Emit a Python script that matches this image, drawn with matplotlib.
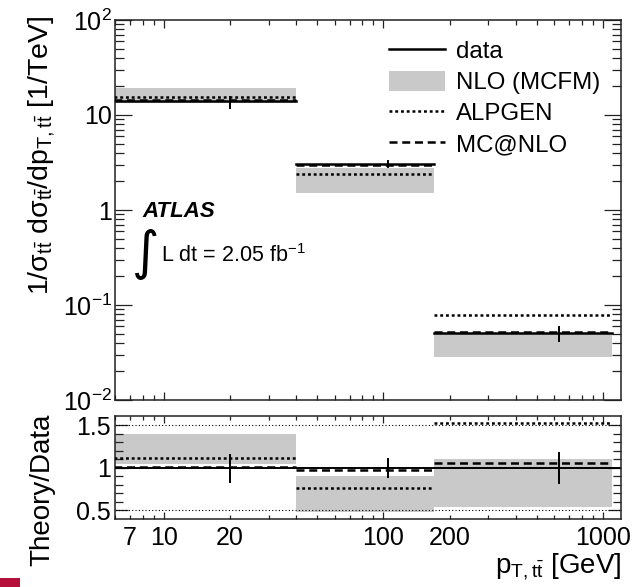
import numpy as np
import matplotlib
matplotlib.use('Agg')
import matplotlib.pyplot as plt
from matplotlib.ticker import FixedLocator, FixedFormatter, NullFormatter, FuncFormatter
from matplotlib.patches import Rectangle, Patch
from matplotlib.lines import Line2D

plt.rcParams['font.family'] = ['Liberation Sans', 'DejaVu Sans']
plt.rcParams['mathtext.fontset'] = 'custom'
plt.rcParams['mathtext.rm'] = 'Liberation Sans'
plt.rcParams['mathtext.it'] = 'Liberation Sans:italic'
plt.rcParams['mathtext.bf'] = 'Liberation Sans:bold'

# ---- data ----
bin_edges = [1.0, 40.0, 170.0, 1100.0]
data_x = [20.0, 105.0, 630.0]
data_val = [13.9, 3.05, 0.051]
data_err_hi = [15.6, 3.30, 0.059]
data_err_lo = [11.8, 2.86, 0.0415]
nlo_lo = [13.5, 1.52, 0.0286]
nlo_hi = [19.4, 2.79, 0.0505]
alpgen = [15.6, 2.39, 0.0785]
mcatnlo = [14.4, 3.0, 0.0525]

ratio_nlo_lo = [1.05, 0.485, 0.54]
ratio_nlo_hi = [1.40, 0.90, 1.10]
ratio_alpgen = [1.12, 0.77, 1.53]
ratio_mcatnlo = [1.01, 0.98, 1.055]
ratio_err_lo = [0.84, 0.89, 0.82]
ratio_err_hi = [1.15, 1.10, 1.17]

main_yticks = [1e-2, 1e-1, 1, 10, 100]
main_yticklabels = [r'$10^{-2}$', r'$10^{-1}$', '1', '10', r'$10^{2}$']
ratio_yticks = [0.5, 1.0, 1.5]
ratio_yticklabels = ['0.5', '1', '1.5']
x_major = [10, 100, 1000]
x_labeled_minor = {7: '7', 20: '20', 200: '200'}
legend_labels = ['data', 'NLO (MCFM)', 'ALPGEN', 'MC@NLO']

W, H = 633, 587
fig = plt.figure(figsize=(W / 100, H / 100), dpi=100)
L, R = 115, 621
ax = fig.add_axes([L / W, 1 - 400 / H, (R - L) / W, 380 / H])
axr = fig.add_axes([L / W, 1 - 519 / H, (R - L) / W, 103 / H])

band_col = '#c9c9c9'
lw = 1.8
dot = (0, (1.15, 1.15))
dash = (0, (3.2, 1.9))

for i in range(3):
    x0, x1 = bin_edges[i], bin_edges[i + 1]
    ax.fill_between([x0, x1], nlo_lo[i], nlo_hi[i], color=band_col, lw=0, zorder=1)
    ax.plot([x0, x1], [alpgen[i]] * 2, color='black', lw=lw, ls=dot, zorder=3)
    ax.plot([x0, x1], [data_val[i]] * 2, color='black', lw=lw, ls='-', zorder=2)
    ax.plot([x0, x1], [mcatnlo[i]] * 2, color='black', lw=lw, ls=dash, zorder=4)
    ax.plot([data_x[i]] * 2, [data_err_lo[i], data_err_hi[i]], color='black', lw=1.4, zorder=5)

    axr.fill_between([x0, x1], ratio_nlo_lo[i], ratio_nlo_hi[i], color=band_col, lw=0, zorder=1)
    axr.plot([x0, x1], [ratio_alpgen[i]] * 2, color='black', lw=lw, ls=dot, zorder=3)
    axr.plot([x0, x1], [ratio_mcatnlo[i]] * 2, color='black', lw=lw, ls=dash, zorder=4)
    axr.plot([data_x[i]] * 2, [ratio_err_lo[i], ratio_err_hi[i]], color='black', lw=1.4, zorder=5)

axr.axhline(1.0, color='black', lw=1.4, zorder=2)
for yv in (0.5, 1.5):
    axr.axhline(yv, color='black', lw=0.8, ls=(0, (1, 2)), zorder=2)

xlim = (5.98, 1208)
for a in (ax, axr):
    a.set_xscale('log')
    a.set_xlim(*xlim)
    a.xaxis.set_major_locator(FixedLocator(x_major))
    minors = [m * d for d in (1, 10, 100, 1000) for m in range(2, 10)]
    a.xaxis.set_minor_locator(FixedLocator(minors))
    for s in a.spines.values():
        s.set_linewidth(1.1)
        s.set_color('#222222')
    a.tick_params(which='both', direction='in', top=True, right=True, width=0.9, color='#222222')

ax.set_yscale('log')
ax.set_ylim(1e-2, 1e2)
ax.yaxis.set_major_locator(FixedLocator(main_yticks))
ax.yaxis.set_major_formatter(FixedFormatter(main_yticklabels))
ax.yaxis.set_minor_locator(FixedLocator([m * d for d in (1e-2, 1e-1, 1, 10) for m in range(2, 10)]))
ax.yaxis.set_minor_formatter(NullFormatter())
ax.xaxis.set_major_formatter(NullFormatter())
ax.xaxis.set_minor_formatter(NullFormatter())
ax.tick_params(axis='y', which='major', length=12, labelsize=18, pad=2)
ax.tick_params(axis='y', which='minor', length=6.5)
ax.tick_params(axis='x', which='major', length=6)
ax.tick_params(axis='x', which='minor', length=3.6)

axr.set_ylim(0.4, 1.61)
axr.yaxis.set_major_locator(FixedLocator(ratio_yticks))
axr.yaxis.set_major_formatter(FixedFormatter(ratio_yticklabels))
axr.yaxis.set_minor_locator(FixedLocator([0.6, 0.7, 0.8, 0.9, 1.1, 1.2, 1.3, 1.4]))
axr.yaxis.set_minor_formatter(NullFormatter())
axr.xaxis.set_major_formatter(FixedFormatter([str(v) for v in x_major]))
axr.xaxis.set_minor_formatter(FuncFormatter(
    lambda v, p: x_labeled_minor.get(int(round(v)), '') if abs(v - round(v)) < 1e-6 else ''))
axr.tick_params(axis='y', which='major', length=9.4, labelsize=18, pad=3)
axr.tick_params(axis='y', which='minor', length=5.5)
axr.tick_params(axis='x', which='both', labelsize=18, pad=5)
axr.tick_params(axis='x', which='major', length=5)
axr.tick_params(axis='x', which='minor', length=3)

# axis titles
fig.text(26 / W, 1 - 16 / H,
         r'$\mathrm{1/\sigma_{t\bar{t}}\ d\sigma_{t\bar{t}}/dp_{T,t\bar{t}}}$ [1/TeV]',
         rotation=90, ha='left', va='top', fontsize=20.5)
fig.text(29 / W, 1 - 490 / H, 'Theory/Data', rotation=90, ha='left', va='center', fontsize=20)
fig.text(621 / W, 1 - 573 / H, r'$\mathrm{p_{T,t\bar{t}}}$ [GeV]', ha='right', va='baseline', fontsize=20)

# ATLAS label
fig.text(142 / W, 1 - 217 / H, 'ATLAS', fontsize=16, fontweight='bold', fontstyle='italic')
fig.text(146 / W, 1 - 254 / H, '\u222b', fontsize=38, family=['DejaVu Sans'],
         ha='center', va='center')
fig.text(161 / W, 1 - 262 / H, r'L dt = 2.05 fb$^{\mathrm{-1}}$', fontsize=15.5)

# legend
handles = [Line2D([], [], color='black', lw=lw),
           Patch(facecolor=band_col, edgecolor='none'),
           Line2D([], [], color='black', lw=lw, ls=dot),
           Line2D([], [], color='black', lw=lw, ls=dash)]
fig.legend(handles, legend_labels, loc='upper left', bbox_to_anchor=(389 / W, 1 - 40 / H),
           frameon=False, fontsize=17.3, borderpad=0, borderaxespad=0,
           handlelength=2.35, handletextpad=0.42, handleheight=0.9, labelspacing=0.32)

fig.add_artist(Rectangle((0, 0), 20 / W, 9 / H, transform=fig.transFigure,
                         color='#b4103a', lw=0))

fig.savefig('out.png', dpi=100)
